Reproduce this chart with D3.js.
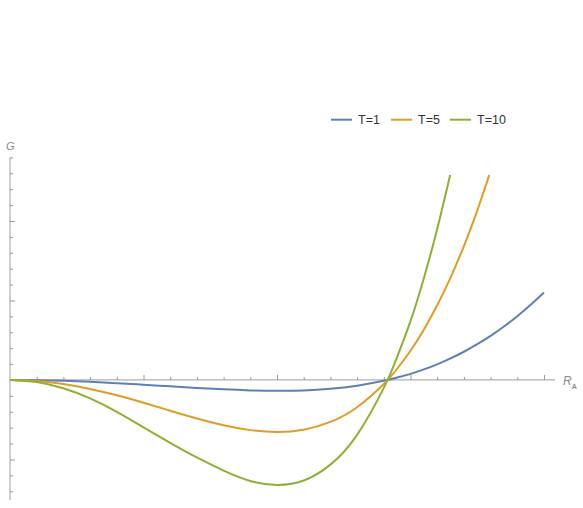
<!DOCTYPE html>
<html>
<head>
<meta charset="utf-8">
<script src="https://cdn.jsdelivr.net/npm/d3@7"></script>
<style>
  body { margin: 0; background: #fff; }
  svg { display: block; }
  text { font-family: "Liberation Sans", Arial, sans-serif; }
</style>
</head>
<body>
<div id="chart"></div>
<script>
// values
var xs = [0, 0.1, 0.2, 0.3, 0.4, 0.5, 0.6, 0.7, 0.8, 0.9, 1.0, 1.1, 1.2, 1.3, 1.4,
          1.45, 1.5, 1.55, 1.6, 1.65, 1.7, 1.75, 1.8, 1.85, 1.9, 1.95, 2.0];
var g1 = [0, -0.003, -0.011, -0.023, -0.04, -0.06, -0.08, -0.1, -0.118, -0.131, -0.136, -0.131, -0.111, -0.072, -0.011,
          0.03, 0.077, 0.133, 0.197, 0.271, 0.355, 0.45, 0.555, 0.672, 0.802, 0.945, 1.1];
var g5 = [0, -0.013, -0.051, -0.113, -0.193, -0.287, -0.387, -0.485, -0.57, -0.631, -0.655, -0.626, -0.528, -0.343, -0.051,
          0.141, 0.368, 0.633, 0.939, 1.288, 1.685, 2.131, 2.63];
var g10 = [0, -0.026, -0.105, -0.232, -0.4, -0.595, -0.79, -0.975, -1.14, -1.27, -1.32, -1.265, -1.065, -0.69, -0.1,
           0.29, 0.74, 1.28, 1.9, 2.6];
var seriesNames = ["T=1", "T=5", "T=10"];
var colors = ["#5e81b5", "#e19c24", "#8fb032"];
var xMajor = [0.5, 1, 1.5, 2];
var yMajor = [-1, 1, 2];

var W = 583, H = 508;
var svg = d3.select('#chart').append('svg')
    .attr('width', W)
    .attr('height', H);

var x = d3.scaleLinear().domain([0, 2]).range([10, 544]);
var y = d3.scaleLinear().domain([-1.51, 2.8]).range([500, 157.4]);

// minor ticks every 0.1 on x, 0.2 on y
var xMinor = d3.range(1, 21).map(function(i) { return i / 10; })
    .filter(function(v) { return xMajor.indexOf(v) < 0; });
var yMinor = d3.range(-7, 15).map(function(i) { return i / 5; })
    .filter(function(v) { return v !== 0 && yMajor.indexOf(v) < 0; });

var axisColor = '#b0b0b0';

function styleAxis(g) {
    g.select('.domain').remove();
    g.selectAll('line').attr('stroke', '#999').attr('stroke-width', 1);
}

// x axis line and ticks
svg.append('line')
    .attr('x1', x(0)).attr('x2', 555)
    .attr('y1', y(0)).attr('y2', y(0))
    .attr('stroke', axisColor).attr('stroke-width', 1.2);
svg.append('g').attr('transform', 'translate(0,' + y(0) + ')')
    .call(d3.axisTop(x).tickValues(xMinor).tickSize(3).tickFormat(''))
    .call(styleAxis);
svg.append('g').attr('transform', 'translate(0,' + y(0) + ')')
    .call(d3.axisTop(x).tickValues(xMajor).tickSize(5).tickFormat(''))
    .call(styleAxis);

// y axis line and ticks
svg.append('line')
    .attr('x1', x(0)).attr('x2', x(0))
    .attr('y1', y(2.8)).attr('y2', y(-1.51))
    .attr('stroke', axisColor).attr('stroke-width', 1.2);
svg.append('g').attr('transform', 'translate(' + x(0) + ',0)')
    .call(d3.axisRight(y).tickValues(yMinor).tickSize(3).tickFormat(''))
    .call(styleAxis);
svg.append('g').attr('transform', 'translate(' + x(0) + ',0)')
    .call(d3.axisRight(y).tickValues(yMajor).tickSize(5).tickFormat(''))
    .call(styleAxis);

// axis labels
svg.append('text').attr('x', 6).attr('y', 150)
    .attr('font-size', 11).attr('fill', '#8a8a8a').attr('font-style', 'italic')
    .text('G');
var ra = svg.append('text').attr('x', 563).attr('y', 385)
    .attr('font-size', 12).attr('fill', '#8a8a8a');
ra.append('tspan').attr('font-style', 'italic').text('R');
ra.append('tspan').attr('font-size', 7).attr('font-weight', 'bold')
    .attr('dy', 4).text('A');

// plot range stops the steep curves at the top
svg.append('clipPath').attr('id', 'plotClip')
    .append('rect')
    .attr('x', 0).attr('y', y(2.58))
    .attr('width', W).attr('height', H);

var line = d3.line()
    .x(function(d) { return x(d[0]); })
    .y(function(d) { return y(d[1]); })
    .curve(d3.curveNatural);

[g1, g5, g10].forEach(function(vals, i) {
    var pts = vals.map(function(v, j) { return [xs[j], v]; });
    svg.append('path')
        .datum(pts)
        .attr('d', line)
        .attr('clip-path', 'url(#plotClip)')
        .attr('fill', 'none')
        .attr('stroke', colors[i])
        .attr('stroke-width', 2);
});

// legend
var legendX = [331, 391, 450];
var legend = svg.append('g');
seriesNames.forEach(function(name, i) {
    legend.append('line')
        .attr('x1', legendX[i]).attr('x2', legendX[i] + 21)
        .attr('y1', 119.7).attr('y2', 119.7)
        .attr('stroke', colors[i]).attr('stroke-width', 2);
    legend.append('text')
        .attr('x', legendX[i] + 27).attr('y', 124)
        .attr('font-size', 12.5).attr('fill', '#333')
        .text(name);
});
</script>
</body>
</html>
